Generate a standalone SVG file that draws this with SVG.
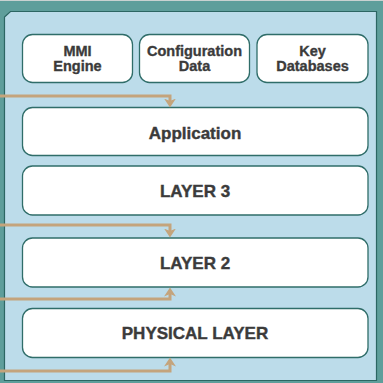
<svg xmlns="http://www.w3.org/2000/svg" width="383" height="383" viewBox="0 0 383 383">
<style>
.box{fill:#ffffff;stroke:#2f6d69;stroke-width:1.3}
.sm{font-family:"Liberation Sans",Arial,sans-serif;font-weight:bold;font-size:14.5px;fill:#3b3b3b;stroke:#3b3b3b;stroke-width:0.35;text-anchor:middle}
.lg{font-family:"Liberation Sans",Arial,sans-serif;font-weight:bold;font-size:17px;fill:#3b3b3b;stroke:#3b3b3b;stroke-width:0.4;text-anchor:middle}
.conn{fill:none;stroke:#c4a47c;stroke-width:3;stroke-linejoin:miter}
</style>
<defs>
<marker id="ah" markerUnits="userSpaceOnUse" markerWidth="13" markerHeight="13" refX="5.5" refY="6" orient="auto">
<path d="M0,0 L9,6 L0,12 L2.5,6 z" fill="#c4a47c"/>
</marker>
</defs>
<rect x="0" y="0" width="383" height="383" fill="#5e9e9b"/>
<rect x="0" y="0" width="383" height="1" fill="#c9d2d1"/>
<path d="M4.5,17 L10.5,11.5 L376.5,11.5 L376.5,380.5 L4.5,380.5 z" fill="#bcdcea" stroke="#2c6663" stroke-width="1.2"/>
<g id="mmi"><rect class="box" x="22.5" y="34.5" width="110" height="48" rx="10"/><text class="sm" x="77.5" y="56">MMI</text><text class="sm" x="77.5" y="71">Engine</text></g>
<g id="config"><rect class="box" x="139.5" y="34.5" width="110" height="48" rx="10"/><text class="sm" x="194.5" y="56">Configuration</text><text class="sm" x="194.5" y="71">Data</text></g>
<g id="keydb"><rect class="box" x="257" y="34.5" width="111" height="48" rx="10"/><text class="sm" x="312.5" y="56">Key</text><text class="sm" x="312.5" y="71">Databases</text></g>
<g id="application"><rect class="box" x="22.5" y="107.5" width="345.5" height="48" rx="10"/><text class="lg" x="195" y="138.5">Application</text></g>
<g id="layer3"><rect class="box" x="22.5" y="166" width="345.5" height="49" rx="10"/><text class="lg" x="195" y="196.5">LAYER 3</text></g>
<g id="layer2"><rect class="box" x="22.5" y="238" width="345.5" height="49" rx="10"/><text class="lg" x="195" y="268.5">LAYER 2</text></g>
<g id="physical"><rect class="box" x="22.5" y="308.5" width="345.5" height="49" rx="10"/><text class="lg" x="195" y="339">PHYSICAL LAYER</text></g>
<g id="connectors">
<path class="conn" d="M0,96 H170 V104" marker-end="url(#ah)"/>
<path class="conn" d="M0,225 H170 V234" marker-end="url(#ah)"/>
<path class="conn" d="M0,299 H170 V291" marker-end="url(#ah)"/>
<path class="conn" d="M0,371 H170 V361" marker-end="url(#ah)"/>
</g>
</svg>
